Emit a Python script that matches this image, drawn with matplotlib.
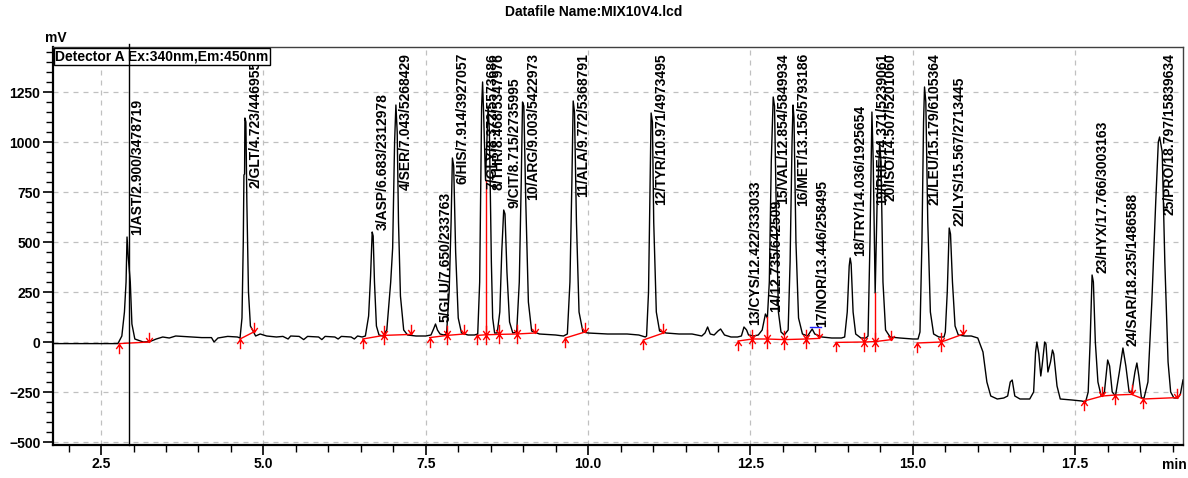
"""Chromatogram MIX10V4.lcd — detector A, Ex 340 / Em 450."""
import matplotlib
matplotlib.use("Agg")
import matplotlib.pyplot as plt
from matplotlib.path import Path
from matplotlib.ticker import MultipleLocator
import matplotlib.transforms as mtrans

plt.rcParams["font.family"] = ["Liberation Sans", "DejaVu Sans"]

# detector trace: (min, mV)
trace = [
    (1.76, -8), (2.76, -8), (2.82, 30), (2.86, 150), (2.885, 300), (2.90, 525), (2.92, 420),
    (2.95, 300), (2.975, 90), (3.02, 15), (3.15, 0), (3.25, 2), (3.35, 15), (3.45, 25),
    (3.55, 20), (3.65, 30), (3.75, 28), (3.9, 25), (4.05, 22), (4.2, 22), (4.24, 0), (4.3, 20),
    (4.45, 28), (4.6, 25),
    (4.64, 20), (4.67, 120), (4.69, 500), (4.70, 835), (4.71, 840), (4.715, 1120), (4.73, 1100),
    (4.745, 700), (4.77, 250), (4.80, 80), (4.84, 55), (4.88, 30), (4.95, 40), (5.05, 30),
    (5.2, 25), (5.3, 28), (5.38, 15), (5.42, 30), (5.55, 28), (5.62, 12), (5.68, 28), (5.85, 25),
    (5.9, 12), (5.95, 28), (6.1, 25), (6.15, 15), (6.2, 28), (6.35, 25), (6.4, 15), (6.45, 30),
    (6.52, 25),
    (6.57, 30), (6.62, 130), (6.65, 330), (6.675, 550), (6.69, 530), (6.71, 300), (6.74, 80),
    (6.78, 35), (6.84, 30),
    (6.90, 60), (6.96, 300), (6.99, 470), (7.02, 1000), (7.04, 1185), (7.06, 1050), (7.08, 600),
    (7.11, 230), (7.16, 60), (7.22, 35), (7.35, 30), (7.5, 30),
    (7.58, 35), (7.62, 65), (7.65, 90), (7.68, 60), (7.72, 40), (7.78, 35),
    (7.82, 40), (7.86, 250), (7.89, 600), (7.91, 920), (7.93, 880), (7.96, 450), (8.0, 120),
    (8.05, 45), (8.15, 35), (8.25, 35),
    (8.30, 40), (8.33, 300), (8.35, 900), (8.36, 1175), (8.375, 1300), (8.39, 1150), (8.42, 810),
    (8.44, 1000), (8.46, 1180), (8.48, 1050), (8.51, 400), (8.53, 120), (8.56, 45),
    (8.60, 45), (8.64, 150), (8.67, 450), (8.70, 660), (8.72, 640), (8.75, 350), (8.79, 100),
    (8.84, 45),
    (8.90, 50), (8.94, 300), (8.97, 800), (8.99, 1200), (9.01, 1180), (9.04, 700), (9.08, 200),
    (9.13, 55), (9.25, 40), (9.5, 35), (9.62, 30),
    (9.68, 40), (9.72, 300), (9.75, 800), (9.77, 1205), (9.79, 1150), (9.82, 600), (9.86, 150),
    (9.92, 50), (10.0, 45), (10.3, 40), (10.6, 40), (10.78, 35), (10.88, 25),
    (10.90, 30), (10.93, 250), (10.95, 700), (10.97, 1145), (10.99, 1100), (11.01, 600),
    (11.05, 150), (11.1, 55), (11.2, 45), (11.4, 40), (11.6, 40), (11.75, 30),
    (11.80, 45), (11.84, 75), (11.88, 40), (11.94, 35), (12.0, 55), (12.04, 65), (12.1, 35),
    (12.2, 25), (12.3, 25),
    (12.36, 30), (12.40, 75), (12.44, 60), (12.47, 35), (12.55, 30), (12.62, 35),
    (12.68, 60), (12.73, 140), (12.76, 120),
    (12.79, 300), (12.82, 900), (12.85, 1225), (12.87, 1180), (12.9, 600), (12.93, 150),
    (12.97, 50), (13.02, 35),
    (13.08, 60), (13.11, 400), (13.14, 1000), (13.155, 1185), (13.17, 1120), (13.2, 500),
    (13.24, 120), (13.3, 40), (13.38, 30),
    (13.41, 45), (13.45, 65), (13.49, 40), (13.6, 25), (13.75, 20), (13.9, 20),
    (13.95, 25), (13.99, 150), (14.02, 380), (14.035, 420), (14.05, 390), (14.08, 150),
    (14.12, 40), (14.2, 20), (14.28, 20),
    (14.31, 30), (14.34, 500), (14.37, 1150), (14.39, 900), (14.42, 245), (14.45, 700),
    (14.49, 995), (14.51, 900), (14.54, 300), (14.58, 60), (14.65, 25), (14.8, 20), (15.0, 15),
    (15.08, 15),
    (15.11, 50), (15.14, 500), (15.165, 1100), (15.18, 1275), (15.2, 1200), (15.23, 600),
    (15.27, 150), (15.32, 40), (15.4, 25), (15.48, 25),
    (15.5, 50), (15.53, 250), (15.56, 570), (15.58, 540), (15.61, 300), (15.65, 80), (15.7, 35),
    (15.8, 30), (15.9, 30), (16.0, 20),
    (16.08, -50), (16.14, -200), (16.2, -270), (16.3, -285), (16.4, -280), (16.46, -270),
    (16.5, -200), (16.53, -190), (16.57, -270), (16.65, -285), (16.8, -285), (16.86, -250),
    (16.89, -50), (16.91, 0), (16.94, -60), (16.97, -170), (16.99, -120), (17.03, 0),
    (17.05, -10), (17.08, -150), (17.12, -100), (17.15, -40), (17.17, -60), (17.22, -220),
    (17.27, -285), (17.45, -290), (17.6, -295), (17.66, -300),
    (17.70, -250), (17.73, 0), (17.76, 335), (17.78, 300), (17.81, 0), (17.85, -200),
    (17.9, -270), (17.95, -250), (18.0, -90), (18.03, -120), (18.07, -250), (18.12, -270),
    (18.18, -150), (18.235, -30), (18.28, -120), (18.33, -250), (18.37, -255), (18.42, -150),
    (18.45, -105), (18.48, -170), (18.52, -280), (18.56, -280),
    (18.62, -200), (18.68, 200), (18.74, 700), (18.78, 1000), (18.80, 1025), (18.84, 950),
    (18.88, 400), (18.93, -100), (18.97, -250), (19.02, -280), (19.08, -280), (19.12, -260),
    (19.16, -190),
]

# integration baselines (red)
baselines = [
    [(2.78, -8), (3.24, 0)],
    [(4.64, 15), (4.85, 50)],
    [(6.53, 15), (6.85, 33), (7.28, 38)],
    [(7.56, 22), (7.83, 33), (8.09, 40)],
    [(8.29, 33), (8.42, 36), (8.62, 38), (8.90, 40), (9.18, 45)],
    [(9.65, 20), (9.95, 50)],
    [(10.85, 10), (11.16, 45)],
    [(12.31, 5), (12.53, 15), (12.75, 15), (13.02, 12), (13.36, 15), (13.55, 18)],
    [(13.82, -2), (14.25, 0), (14.42, 2), (14.67, 12)],
    [(15.07, -5), (15.44, 0), (15.78, 40)],
    [(17.64, -295), (17.92, -270), (18.12, -265), (18.37, -262), (18.55, -285), (19.07, -278)],
]
drop_lines = [(8.42, 36, 810), (12.75, 15, 125), (14.42, 2, 245)]

peak_starts = [(2.78, -8), (4.64, 15), (6.53, 15), (6.85, 33), (7.56, 22), (7.83, 33),
               (8.29, 33), (8.42, 36), (8.62, 38), (8.90, 40), (9.65, 20), (10.85, 10),
               (12.31, 5), (12.53, 15), (12.75, 15), (13.02, 12), (13.36, 15), (13.82, -2),
               (14.25, 0), (14.42, 2), (15.07, -5), (15.44, 0), (17.64, -295), (18.12, -265),
               (18.55, -285)]
peak_ends = [(3.24, 0), (4.85, 50), (6.85, 33), (7.28, 38), (7.83, 33), (8.09, 40),
             (8.42, 36), (8.62, 38), (8.90, 40), (9.18, 45), (9.95, 50), (11.16, 45),
             (12.53, 15), (12.75, 15), (13.02, 12), (13.36, 15), (13.55, 18), (14.25, 0),
             (14.42, 2), (14.67, 12), (15.44, 0), (15.78, 40), (17.92, -270), (18.37, -262),
             (19.07, -278)]

# peak labels: text, apex time, apex height
peak_labels = [
    ("1/AST/2.900/3478719", 2.900, 525),
    ("2/GLT/4.723/4469551", 4.723, 1120),
    ("3/ASP/6.683/2312978", 6.683, 550),
    ("4/SER/7.043/5268429", 7.043, 1185),
    ("5/GLU/7.650/233763", 7.650, 90),
    ("6/HIS/7.914/3927057", 7.914, 920),
    ("7/GLY/8.372/5573686", 8.372, 1300),
    ("8/THR/8.468/5347976", 8.468, 1180),
    ("9/CIT/8.715/2735995", 8.715, 660),
    ("10/ARG/9.003/5422973", 9.003, 1200),
    ("11/ALA/9.772/5368791", 9.772, 1205),
    ("12/TYR/10.971/4973495", 10.971, 1145),
    ("13/CYS/12.422/333033", 12.422, 75),
    ("14/12.735/642509", 12.735, 140),
    ("15/VAL/12.854/5849934", 12.854, 1225),
    ("16/MET/13.156/5793186", 13.156, 1185),
    ("17/NOR/13.446/258495", 13.446, 65),
    ("18/TRY/14.036/1925654", 14.036, 420),
    ("19/PHE/14.371/5239061", 14.371, 1150),
    ("20/ISO/14.507/5201060", 14.507, 995),
    ("21/LEU/15.179/6105364", 15.179, 1275),
    ("22/LYS/15.567/2713445", 15.567, 570),
    ("23/HYX/17.766/3003163", 17.766, 335),
    ("24/SAR/18.235/1486588", 18.235, -30),
    ("25/PRO/18.797/15839634", 18.797, 1025),
]

cursor_t = 2.93
XLIM = (1.76, 19.16)
YLIM = (-515, 1475)
LABEL_TOP = 1445

# arrow markers: head on the baseline, stem away from it
UP = Path([(0, 0), (0, -1.5), (-0.5, -0.7), (0, 0), (0.5, -0.7)],
          [Path.MOVETO, Path.LINETO, Path.MOVETO, Path.LINETO, Path.LINETO])
DOWN = Path([(0, 0), (0, 1.5), (-0.5, 0.7), (0, 0), (0.5, 0.7)],
            [Path.MOVETO, Path.LINETO, Path.MOVETO, Path.LINETO, Path.LINETO])

fig = plt.figure(figsize=(11.88, 4.78), dpi=100)
ax = fig.add_axes([53 / 1188, 33 / 478, 1130 / 1188, 398 / 478])

ax.plot([p[0] for p in trace], [p[1] for p in trace], color="black", lw=1.0, zorder=3)
for seg in baselines:
    ax.plot([p[0] for p in seg], [p[1] for p in seg], color="#ff0000", lw=1.0, zorder=4)
for t, y0, y1 in drop_lines:
    ax.plot([t, t], [y0, y1], color="#ff0000", lw=1.0, zorder=4)
ax.plot([13.42, 13.58], [75, 75], color="#2020ff", lw=1.0, zorder=4)
ax.plot([p[0] for p in peak_starts], [p[1] for p in peak_starts], ls="none", marker=UP,
        ms=14, mec="#ff0000", mfc="none", mew=1.0, zorder=5)
ax.plot([p[0] for p in peak_ends], [p[1] for p in peak_ends], ls="none", marker=DOWN,
        ms=14, mec="#ff0000", mfc="none", mew=1.0, zorder=5)

ax.set_xlim(*XLIM)
ax.set_ylim(*YLIM)
ax.xaxis.set_major_locator(MultipleLocator(2.5))
ax.xaxis.set_minor_locator(MultipleLocator(0.5))
ax.yaxis.set_major_locator(MultipleLocator(250))
ax.yaxis.set_minor_locator(MultipleLocator(50))
ax.set_xticks([2.5, 5.0, 7.5, 10.0, 12.5, 15.0, 17.5])
ax.set_xticklabels(["2.5", "5.0", "7.5", "10.0", "12.5", "15.0", "17.5"])
ax.grid(True, which="major", color="#c0c0c0", ls=(0, (4, 4)), lw=0.9)
ax.set_axisbelow(True)
ax.tick_params(which="major", length=7, width=1.2, labelsize=10, pad=2)
ax.tick_params(which="minor", length=5, width=1.0)
for lab in ax.get_xticklabels() + ax.get_yticklabels():
    lab.set_fontweight("bold")
for s in ("left", "bottom"):
    ax.spines[s].set_linewidth(1.6)
for s in ("top", "right"):
    ax.spines[s].set_color("#404040")
    ax.spines[s].set_linewidth(1.0)

# cursor line, reaching up through the detector box
trans = mtrans.blended_transform_factory(ax.transData, ax.transAxes)
ax.plot([cursor_t, cursor_t], [0, 1.008], transform=trans, color="black", lw=1.0,
        clip_on=False, zorder=7)

# peak labels sit on the apex, pushed down when they would leave the frame
texts = []
for txt, t, h in peak_labels:
    tx = ax.text(t + 0.045, h + 10, txt, rotation=90, ha="left", va="bottom",
                 fontsize=10, fontweight="bold", zorder=6)
    texts.append(tx)
fig.canvas.draw()
renderer = fig.canvas.get_renderer()
inv = ax.transData.inverted()
for tx in texts:
    bb = tx.get_window_extent(renderer)
    top = inv.transform((bb.x1, bb.y1))[1]
    if top > LABEL_TOP:
        tx.set_y(LABEL_TOP)
        tx.set_va("top")

ax.text(0.002, 0.993, "Detector A Ex:340nm,Em:450nm", transform=ax.transAxes,
        ha="left", va="top", fontsize=10, fontweight="bold", zorder=6,
        bbox=dict(boxstyle="square,pad=0.12", fc="white", ec="black", lw=1.0))

fig.text(0.5, 1 - 12 / 478, "Datafile Name:MIX10V4.lcd", ha="center", va="center",
         fontsize=10, fontweight="bold")
fig.text(45 / 1188, 1 - 38 / 478, "mV", ha="left", va="center", fontsize=10, fontweight="bold")
fig.text(1162 / 1188, 1 - 465 / 478, "min", ha="left", va="center", fontsize=10,
         fontweight="bold")

fig.savefig("out.png", dpi=100)
